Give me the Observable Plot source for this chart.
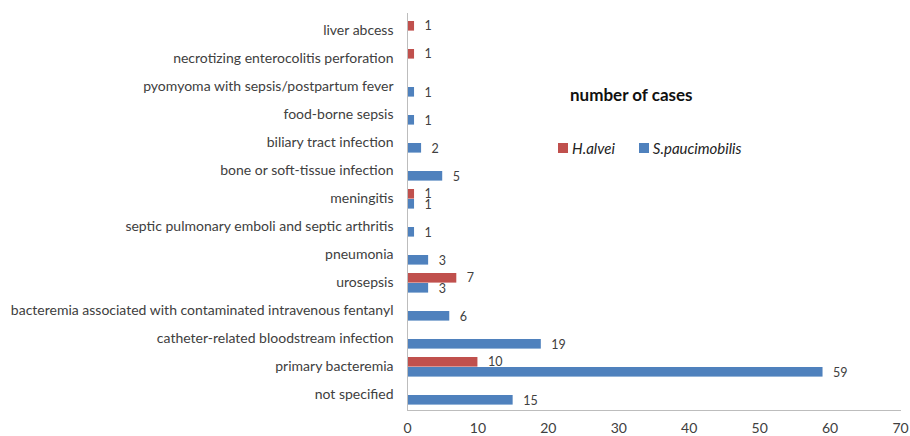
<!DOCTYPE html>
<html>
<head>
<meta charset="utf-8">
<script src="https://cdn.jsdelivr.net/npm/d3@7"></script>
<script src="https://cdn.jsdelivr.net/npm/@observablehq/plot@0.6"></script>
<style>
  html, body { margin: 0; padding: 0; background: #fff; }
  #wrap { position: relative; width: 910px; height: 436px; font-family: Lato, "Open Sans", sans-serif; }
  #title { position: absolute; left: 570px; top: 84px; font-size: 17px; font-weight: bold; color: #111; white-space: nowrap; }
  #legend { position: absolute; left: 558px; top: 139px; font-size: 15px; font-style: italic; color: #222; white-space: nowrap; display: flex; align-items: center; }
  .sw { display: inline-block; width: 10px; height: 10px; margin-right: 4px; }
  .item { display: flex; align-items: center; margin-right: 24px; }
</style>
</head>
<body>
<div id="wrap">
  <div id="chart"></div>
  <div id="title"></div>
  <div id="legend"></div>
</div>
<script>
const categories = [
  "liver abcess",
  "necrotizing enterocolitis perforation",
  "pyomyoma with sepsis/postpartum fever",
  "food-borne sepsis",
  "biliary tract infection",
  "bone or soft-tissue infection",
  "meningitis",
  "septic pulmonary emboli and septic arthritis",
  "pneumonia",
  "urosepsis",
  "bacteremia associated with contaminated intravenous fentanyl",
  "catheter-related bloodstream infection",
  "primary bacteremia",
  "not specified"
];
const seriesNames = ["H.alvei", "S.paucimobilis"];
const hAlvei = [1, 1, 0, 0, 0, 0, 1, 0, 0, 7, 0, 0, 10, 0];
const sPaucimobilis = [0, 0, 1, 1, 2, 5, 1, 1, 3, 3, 6, 19, 59, 15];
const xTicks = [0, 10, 20, 30, 40, 50, 60, 70];
const titleText = "number of cases";
const colors = ["#C0504D", "#4F81BD"];

const rowsH = categories.map((c, i) => ({category: c, value: hAlvei[i]})).filter(d => d.value > 0);
const rowsS = categories.map((c, i) => ({category: c, value: sPaucimobilis[i]})).filter(d => d.value > 0);

const chart = Plot.plot({
  width: 910,
  height: 436,
  marginLeft: 407,
  marginRight: 10,
  marginTop: 13,
  marginBottom: 26,
  style: {fontFamily: "Lato, 'Open Sans', sans-serif", background: "#fff"},
  x: {domain: [0, 70], ticks: xTicks},
  y: {domain: categories, padding: 0},
  marks: [
    Plot.barX(rowsH, {x: "value", y: "category", fill: colors[0], insetTop: 5, insetBottom: 13.4}),
    Plot.barX(rowsS, {x: "value", y: "category", fill: colors[1], insetTop: 15, insetBottom: 3.4}),
    Plot.text(rowsH, {x: "value", y: "category", text: d => String(d.value), dx: 10, dy: -4.5, textAnchor: "start", fill: "#404040", fontSize: 12.5}),
    Plot.text(rowsS, {x: "value", y: "category", text: d => String(d.value), dx: 10, dy: 6, textAnchor: "start", fill: "#404040", fontSize: 12.5}),
    Plot.frame({anchor: "left", stroke: "#bdbdbd"}),
    Plot.frame({anchor: "bottom", stroke: "#bdbdbd"}),
    Plot.axisY({tickSize: 0, tickPadding: 14, label: null, fontSize: 14, color: "#404040"}),
    Plot.axisX({ticks: xTicks, tickSize: 0, tickPadding: 13, label: null, fontSize: 14, color: "#404040"})
  ]
});
document.getElementById("chart").appendChild(chart);

document.getElementById("title").textContent = titleText;
const legend = document.getElementById("legend");
seriesNames.forEach((name, i) => {
  const item = document.createElement("span");
  item.className = "item";
  const sw = document.createElement("span");
  sw.className = "sw";
  sw.style.background = colors[i];
  item.appendChild(sw);
  item.appendChild(document.createTextNode(name));
  legend.appendChild(item);
});
</script>
</body>
</html>
